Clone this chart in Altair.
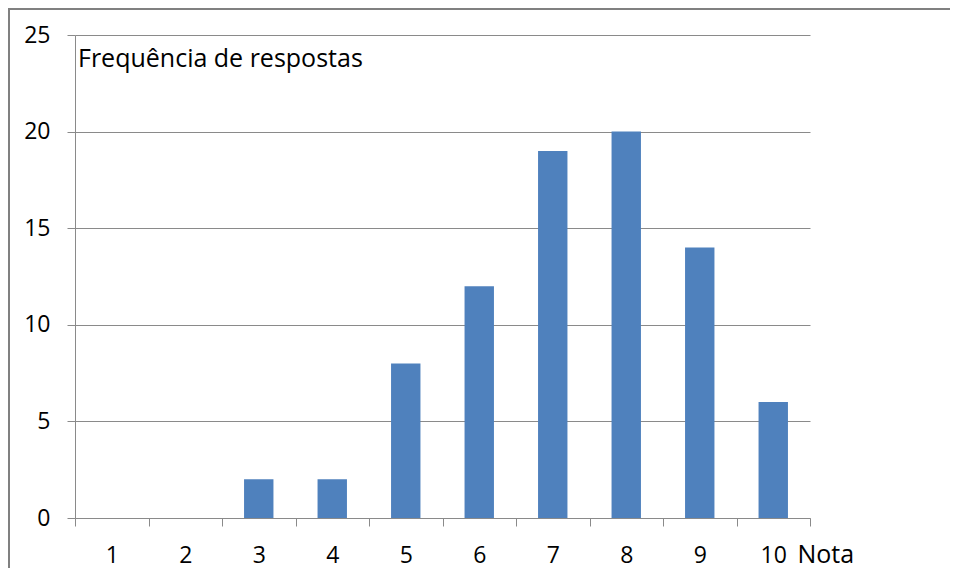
import altair as alt
import pandas as pd

notas = ["1", "2", "3", "4", "5", "6", "7", "8", "9", "10"]
frequencias = [0, 0, 2, 2, 8, 12, 19, 20, 14, 6]
y_ticks = [0, 5, 10, 15, 20, 25]
chart_title = "Frequência de respostas"
x_title = "Nota"

df = pd.DataFrame({"nota": notas, "freq": frequencias})
one = pd.DataFrame({"t": [chart_title]})

FONT = "Open Sans"
GRID = "#8a8a8a"

bars = alt.Chart(df).mark_bar(color="#4F81BD", width=alt.RelativeBandSize(0.4)).encode(
    x=alt.X(
        "nota:N",
        sort=notas,
        scale=alt.Scale(paddingInner=0, paddingOuter=0),
        axis=alt.Axis(
            title=x_title,
            titleX=722,
            titleY=44,
            titleAlign="left",
            titleBaseline="alphabetic",
            titleFontWeight="normal",
            titleFontSize=25,
            titleFont=FONT,
            titleColor="black",
            labelAngle=0,
            labelFontSize=23,
            labelFont=FONT,
            labelColor="black",
            labelBaseline="alphabetic",
            labelPadding=36,
            tickBand="extent",
            tickSize=8,
            tickColor=GRID,
            domainColor=GRID,
            grid=False,
        ),
    ),
    y=alt.Y(
        "freq:Q",
        scale=alt.Scale(domain=[0, 25], nice=False),
        axis=alt.Axis(
            title=None,
            values=y_ticks,
            labelFontSize=23,
            labelFont=FONT,
            labelColor="black",
            labelPadding=17,
            tickSize=8,
            tickColor=GRID,
            domainColor=GRID,
            gridColor=GRID,
            gridOpacity=1,
        ),
    ),
)

title_text = alt.Chart(one).mark_text(
    align="left", baseline="alphabetic", fontSize=25, font=FONT, color="black"
).encode(x=alt.value(3), y=alt.value(32), text="t:N")

frame = alt.Chart(one).mark_rect(
    fillOpacity=0, stroke="#808080", strokeWidth=2
).encode(
    x=alt.value(-66), x2=alt.value(920), y=alt.value(-26), y2=alt.value(580)
)

chart = (
    alt.layer(bars, title_text, frame)
    .properties(
        width=735,
        height=483,
        background="white",
        autosize=alt.AutoSizeParams(type="none"),
        padding={"left": 67, "top": 27, "right": 140, "bottom": 50},
    )
    .configure_view(stroke=None)
)

chart.save("out.html", embed_options={"renderer": "svg", "actions": False})
